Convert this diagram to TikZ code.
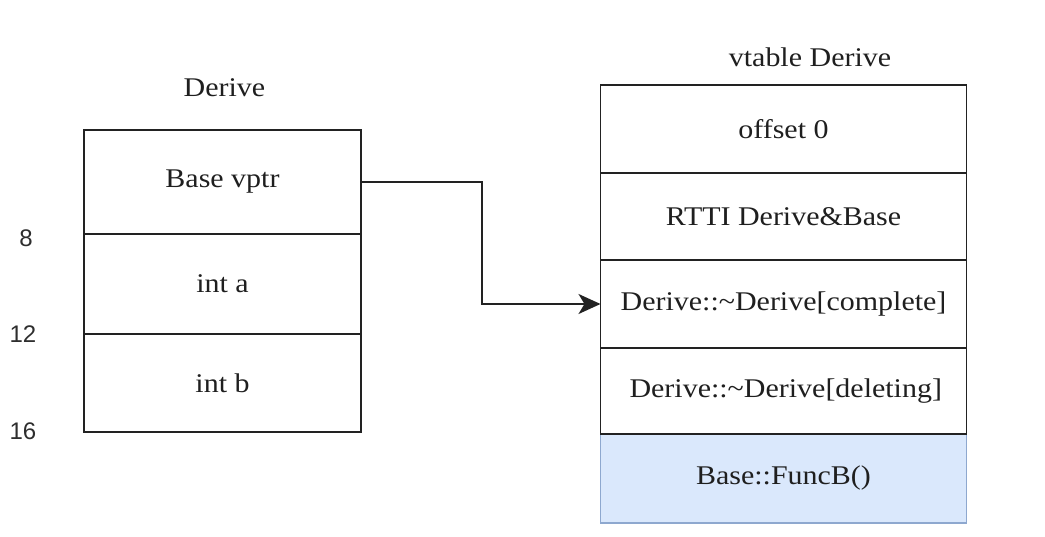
\documentclass[tikz,border=0pt]{standalone}
\usepackage{fontspec}
\setmainfont{Liberation Serif}[FakeStretch=1.11]
\newfontfamily\numfont{Liberation Sans}
\usetikzlibrary{arrows.meta}
\definecolor{bluefill}{HTML}{DAE8FC}
\definecolor{blueline}{HTML}{8EA8CF}
\definecolor{linecol}{HTML}{222222}
\begin{document}
\begin{tikzpicture}[x=1pt,y=-1pt,
  cell/.style={draw=linecol,line width=1.8pt,inner sep=0pt,outer sep=0pt,rectangle,
    font=\fontsize{27}{32}\selectfont,text=black!88},
  lcell/.style={cell,minimum width=277pt},
  vcell/.style={cell,minimum width=366pt},
  bcell/.style={vcell,fill=bluefill,draw=blueline,line width=1.3pt},
  ttl/.style={font=\fontsize{27}{32}\selectfont,text=black!88,inner sep=0pt},
  num/.style={font=\numfont\fontsize{24}{28}\selectfont,text=black!82,inner sep=0pt},
  conn/.style={draw=linecol,line width=1.8pt,-{Stealth[length=22pt,width=20pt,inset=6pt]}}]
\useasboundingbox[fill=white] (0,0) rectangle (1045,537);
% left object
\node[ttl] (tderive) at (224.5,88) {Derive};
\node[lcell,minimum height=104pt] (r1) at (222.5,182) {Base vptr};
\node[lcell,minimum height=100pt] (r2) at (222.5,284) {int a};
\node[lcell,minimum height=98pt] (r3) at (222.5,383) {int b};
\node[num] (n8) at (26,238) {8};
\node[num] (n12) at (23,334) {12};
\node[num] (n16) at (23,431) {16};
% vtable
\node[ttl] (tvt) at (810,57) {vtable Derive};
\node[bcell,minimum height=89pt] (v5) at (783.5,478.5) {Base::FuncB()};
\node[vcell,minimum height=88pt] (v1) at (783.5,129) {offset 0};
\node[vcell,minimum height=87pt] (v2) at (783.5,216.5) {RTTI Derive\&Base};
\node[vcell,minimum height=88pt] (v3) at (783.5,304) {Derive::\char"007E Derive[complete]};
\node[vcell,minimum height=86pt] (v4) at (783.5,391) {\,Derive::\char"007E Derive[deleting]};
% connector
\coordinate (k1) at (482,182);
\draw[conn] (r1.east) -- (k1) |- (v3.west);
\end{tikzpicture}
\end{document}
